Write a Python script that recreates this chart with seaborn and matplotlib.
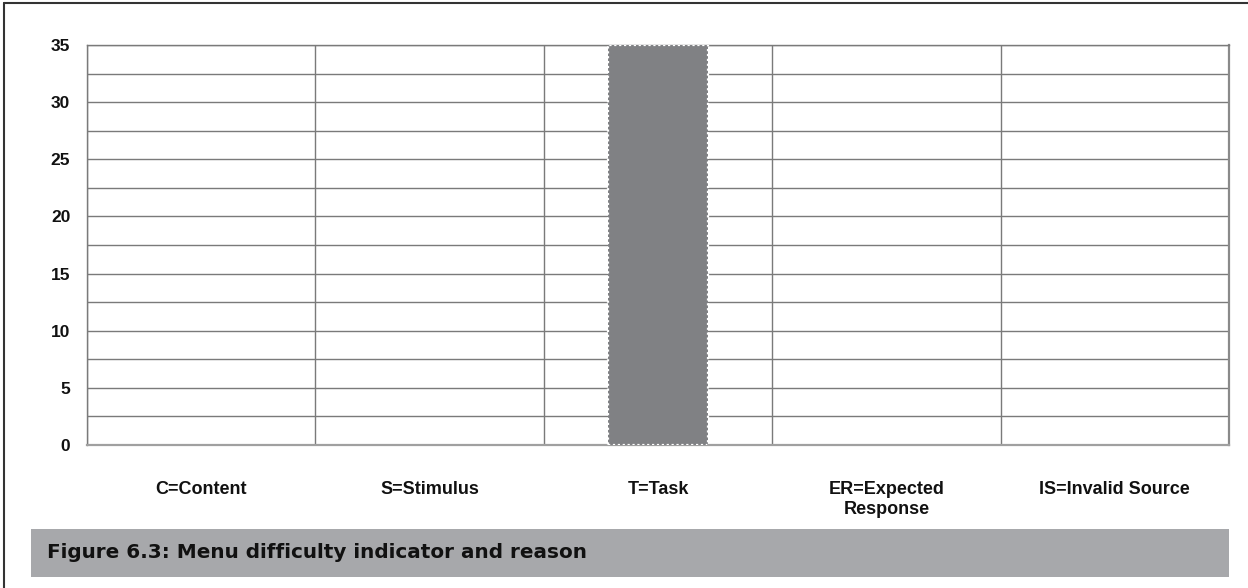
import matplotlib
matplotlib.use("Agg")
import matplotlib.pyplot as plt
import matplotlib.patches as mpatches
import numpy as np
import pandas as pd
import seaborn as sns

# Reasons for menu difficulty and their counts
categories = ["C=Content", "S=Stimulus", "T=Task", "ER=Expected\nResponse", "IS=Invalid Source"]
counts = [0, 0, 35, 0, 0]
y_ticks = [0, 5, 10, 15, 20, 25, 30, 35]
caption = "Figure 6.3: Menu difficulty indicator and reason"

df = pd.DataFrame({"reason": categories, "count": counts})

sns.set_theme(style="white")
plt.rcParams["font.family"] = ["Liberation Sans", "DejaVu Sans"]

fig = plt.figure(figsize=(12.48, 5.88), dpi=100)
ax = fig.add_axes([87 / 1248, 1 - 445 / 588, (1229 - 87) / 1248, 400 / 588])

sns.barplot(data=df, x="reason", y="count", color="#808184", width=0.44,
            saturation=1, ax=ax, zorder=3)
for patch in ax.patches:
    if patch.get_height() > 0:
        patch.set_edgecolor("white")
        patch.set_linestyle((0, (1, 1.2)))
        patch.set_linewidth(1.6)
    else:
        patch.set_linewidth(0)

ax.set_ylim(0, 35)
ax.set_xlim(-0.5, len(categories) - 0.5)
ax.set_yticks(y_ticks)
ax.set_yticks(np.arange(2.5, 35, 5), minor=True)
ax.set_xticks(np.arange(-0.5, len(categories) + 0.5, 1), minor=True)
ax.grid(True, which="both", axis="both", color="#7a7a7a", linewidth=1.0, zorder=0)
ax.grid(False, which="major", axis="x")
ax.tick_params(axis="both", which="both", length=0)
ax.tick_params(axis="y", pad=12, labelsize=12.5)
ax.tick_params(axis="x", pad=26, labelsize=13)
for lbl in ax.get_xticklabels() + ax.get_yticklabels():
    lbl.set_fontweight("bold")
    lbl.set_color("#111111")
ax.set_xlabel("")
ax.set_ylabel("")
for name, sp in ax.spines.items():
    sp.set_visible(True)
    sp.set_color("#7a7a7a")
    sp.set_linewidth(1.0)
ax.spines["bottom"].set_color("#a0a0a0")
ax.spines["bottom"].set_linewidth(1.6)
ax.spines["right"].set_color("#8a8a8a")
ax.spines["right"].set_linewidth(1.6)

# Figure frame on the top and left edges
fig.add_artist(plt.Line2D([4 / 1248, 4 / 1248], [0, 1 - 3 / 588], color="#333333", lw=1.5))
fig.add_artist(plt.Line2D([4 / 1248, 1], [1 - 3 / 588, 1 - 3 / 588], color="#333333", lw=1.5))

# Caption band
fig.add_artist(mpatches.Rectangle((31 / 1248, 1 - 577 / 588), (1229 - 31) / 1248, 48 / 588,
                                  transform=fig.transFigure, facecolor="#a7a8ab",
                                  edgecolor="none"))
fig.text(47 / 1248, 1 - 553 / 588, caption, fontsize=14.4, fontweight="bold",
         family=["DejaVu Sans"], color="#111111", va="center", ha="left")

fig.savefig("out.png", dpi=100)
